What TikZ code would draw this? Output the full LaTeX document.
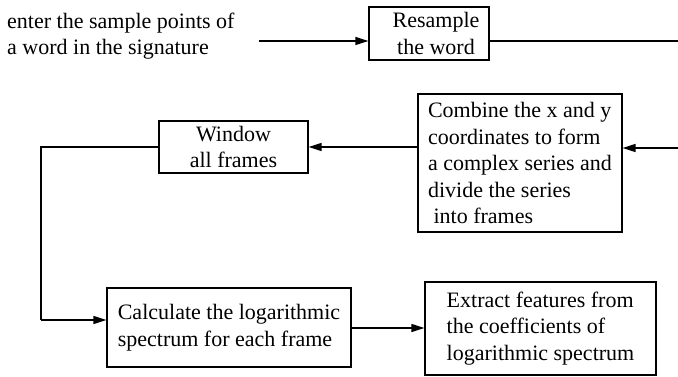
\documentclass[tikz,border=0pt]{standalone}
\usepackage{fontspec}
\setmainfont{Liberation Serif}
\usetikzlibrary{arrows.meta}

\tikzset{
  box/.style={draw, line width=1.2pt, rectangle, inner sep=0pt,
    font=\fontsize{22}{26.5}\selectfont},
  plain/.style={inner sep=0pt, font=\fontsize{22}{26.5}\selectfont},
  flow/.style={line width=1.3pt, -{Triangle[length=13pt,width=8pt]}},
  wire/.style={line width=1.3pt}
}

\begin{document}
\begin{tikzpicture}[x=1pt,y=-1pt]
  \useasboundingbox (0,0) rectangle (678,377);

  % input description
  \node[plain, anchor=west, align=left] (src) at (7,36)
    {enter the sample points of\\a word in the signature};
  \coordinate (a0) at (259,41);

  % processing steps
  \node[box, align=center, minimum width=120pt, minimum height=53pt] (res)
    at (429,33.5) {\hspace*{14pt}Resample\\\hspace*{14pt}the word};
  \node[box, align=left, minimum width=204pt, minimum height=138pt] (comb)
    at (520,163)
    {Combine the x and y\\coordinates to form\\a complex series and\\divide the series\\\hspace*{5.5pt}into frames};
  \node[box, align=center, minimum width=149pt, minimum height=52pt] (win)
    at (233.5,147) {Window\\all frames};
  \node[box, align=left, minimum width=244pt, minimum height=79pt] (calc)
    at (229,327.5)
    {Calculate the logarithmic\\spectrum for each frame};
  \node[box, align=left, minimum width=231pt, minimum height=93pt] (ext)
    at (540.5,328.5)
    {Extract features from\\the coefficients of\\logarithmic spectrum};

  % connector ends at the right border and the left return path
  \coordinate (e1) at (678,41);
  \coordinate (e2) at (678,148);
  \coordinate (c1) at (41,320);

  % connectors
  \draw[flow] (a0) -- (res.west |- a0);
  \draw[wire] (res.east |- e1) -- (e1);
  \draw[flow] (e2) -- (comb.east |- e2);
  \draw[flow] (comb.west |- win.east) -- (win.east);
  \draw[wire] (win.west) -| (c1);
  \draw[flow] (c1) -- (calc.west |- c1);
  \draw[flow] (calc.east |- 0,328) -- (ext.west |- 0,328);
\end{tikzpicture}
\end{document}
